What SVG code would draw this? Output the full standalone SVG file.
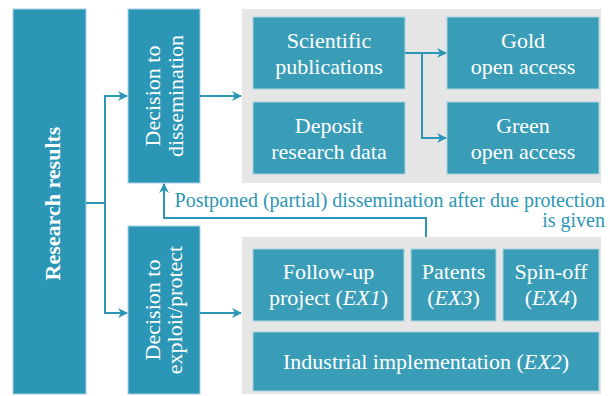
<svg xmlns="http://www.w3.org/2000/svg" width="610" height="396" viewBox="0 0 610 396">
<style>
.main{fill:#2B96B5;stroke:#A9D3E0;stroke-width:1}
.panel{fill:#E6E6E6}
.box{fill:#3A9DB8;stroke:#A9D3E0;stroke-width:1}
.t{font-family:"Liberation Serif","Times New Roman",serif;fill:#FFFFFF;font-size:22px;text-anchor:middle}
.lbl{font-family:"Liberation Serif","Times New Roman",serif;fill:#2B96B5;font-size:20px}
.c{fill:none;stroke:#2B96B5;stroke-width:2}
</style>
<defs>
<marker id="ah" viewBox="0 0 10 10" refX="9" refY="5" markerWidth="5" markerHeight="5" orient="auto" markerUnits="strokeWidth">
<path d="M0,0 L10,5 L0,10 L3,5 z" fill="#2B96B5"/>
</marker>
</defs>
<rect width="610" height="396" fill="#FFFFFF"/>
<g id="research-results">
<rect class="main" x="13" y="9" width="73" height="385"/>
<text class="t" transform="translate(60,203.5) rotate(-90)" font-weight="bold" font-size="24">Research results</text>
</g>
<g id="decision-dissemination">
<rect class="main" x="128" y="9" width="72" height="174"/>
<text class="t" transform="translate(160,96) rotate(-90)" font-size="23">Decision to</text>
<text class="t" transform="translate(183,96) rotate(-90)" font-size="23">dissemination</text>
</g>
<g id="decision-exploit">
<rect class="main" x="128" y="226" width="72" height="168"/>
<text class="t" transform="translate(160,310) rotate(-90)" font-size="23">Decision to</text>
<text class="t" transform="translate(182,310) rotate(-90)" font-size="23">exploit/protect</text>
</g>
<g id="dissemination-panel">
<rect class="panel" x="242" y="9" width="359" height="174"/>
</g>
<g id="scientific-publications">
<rect class="box" x="253" y="17" width="152" height="72"/>
<text class="t" x="329" y="47.5">Scientific</text>
<text class="t" x="329" y="73.5">publications</text>
</g>
<g id="deposit-data">
<rect class="box" x="253" y="102" width="152" height="72"/>
<text class="t" x="329" y="132.5">Deposit</text>
<text class="t" x="329" y="158.5">research data</text>
</g>
<g id="gold-oa">
<rect class="box" x="447" y="17" width="152" height="72"/>
<text class="t" x="523" y="47.5">Gold</text>
<text class="t" x="523" y="73.5">open access</text>
</g>
<g id="green-oa">
<rect class="box" x="447" y="102" width="152" height="72"/>
<text class="t" x="523" y="132.5">Green</text>
<text class="t" x="523" y="158.5">open access</text>
</g>
<g id="exploit-panel">
<rect class="panel" x="242" y="237" width="359" height="157"/>
</g>
<g id="follow-up">
<rect class="box" x="253" y="249" width="151" height="72"/>
<text class="t" x="328.5" y="279">Follow-up</text>
<text class="t" x="328.5" y="305">project (<tspan font-style="italic">EX1</tspan>)</text>
</g>
<g id="patents">
<rect class="box" x="411" y="249" width="85" height="72"/>
<text class="t" x="453.5" y="279">Patents</text>
<text class="t" x="453.5" y="305">(<tspan font-style="italic">EX3</tspan>)</text>
</g>
<g id="spin-off">
<rect class="box" x="503" y="249" width="96" height="72"/>
<text class="t" x="551" y="279">Spin-off</text>
<text class="t" x="551" y="305">(<tspan font-style="italic">EX4</tspan>)</text>
</g>
<g id="industrial">
<rect class="box" x="253" y="332" width="346" height="59"/>
<text class="t" x="426" y="369">Industrial implementation (<tspan font-style="italic">EX2</tspan>)</text>
</g>
<g id="connectors">
<path class="c" d="M86,203 H105"/>
<path class="c" d="M105,313 V96 H127" marker-end="url(#ah)"/>
<path class="c" d="M105,203 V313 H127" marker-end="url(#ah)"/>
<path class="c" d="M200,96 H241" marker-end="url(#ah)"/>
<path class="c" d="M200,313 H241" marker-end="url(#ah)"/>
<path class="c" d="M405,53 H446" marker-end="url(#ah)"/>
<path class="c" d="M422,53 V138 H446" marker-end="url(#ah)"/>
<path class="c" d="M426,237 V218 H164 V184" marker-end="url(#ah)"/>
<text class="lbl" x="605" y="207" text-anchor="end">Postponed (partial) dissemination after due protection</text>
<text class="lbl" x="605" y="227" text-anchor="end">is given</text>
</g>
</svg>
